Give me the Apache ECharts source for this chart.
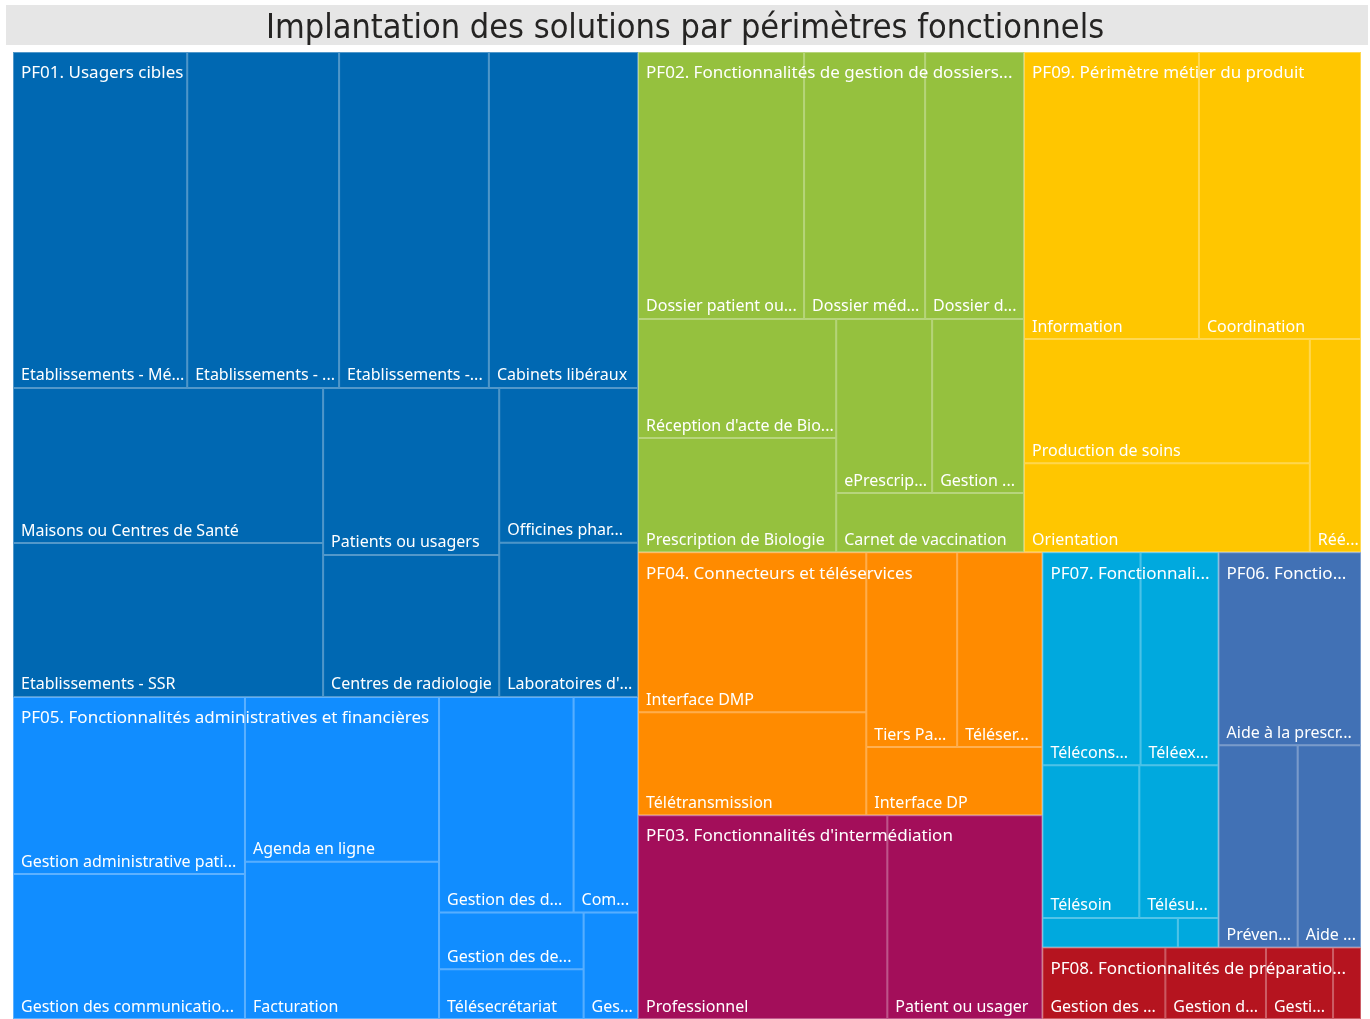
<!DOCTYPE html>
<html>
<head>
<meta charset="utf-8">
<title>Implantation des solutions par périmètres fonctionnels</title>
<script src="https://cdn.jsdelivr.net/npm/echarts@6/dist/echarts.min.js"></script>
<style>
    html, body { margin: 0; padding: 0; background: #fff; }
    #chart { width: 1370px; height: 1019px; }
</style>
</head>
<body>
<div id="chart"></div>
<script>
// périmètres fonctionnels (niveau 1)
var perimetres = [
    'PF01. Usagers cibles',
    'PF05. Fonctionnalités administratives et financières',
    'PF02. Fonctionnalités de gestion de dossiers patients',
    'PF09. Périmètre métier du produit',
    'PF04. Connecteurs et téléservices',
    'PF03. Fonctionnalités d\'intermédiation',
    'PF07. Fonctionnalités de télésanté',
    'PF06. Fonctionnalités d\'aide à la décision',
    'PF08. Fonctionnalités de préparation des doses'
];
var couleurs = ['#0068b2', '#118dff', '#95c13e', '#ffc600', '#ff8b00', '#a30e5a', '#00a9de', '#4171b5', '#b5141f'];

// sous-catégories (niveau 2) et nombre d'implantations
var pf01Noms = ['Etablissements - Médecine, Chirurgie, Obstétrique', 'Etablissements - Psychiatrie', 'Etablissements - Médico-social', 'Cabinets libéraux',
    'Maisons ou Centres de Santé', 'Etablissements - SSR', 'Patients ou usagers', 'Centres de radiologie',
    'Officines pharmaceutiques', 'Laboratoires d\'analyses'];
var pf01Valeurs = [58.5, 51.0, 50.3, 50.1, 48.1, 47.7, 29.4, 25.0, 21.5, 21.4];

var pf05Noms = ['Gestion administrative patients', 'Gestion des communications patients', 'Agenda en ligne', 'Facturation',
    'Gestion des dossiers', 'Comptabilité', 'Gestion des demandes', 'Télésecrétariat', 'Gestion des stocks'];
var pf05Valeurs = [41.1, 33.6, 32.0, 30.5, 29.0, 13.9, 8.2, 7.2, 5.8];

var pf02Noms = ['Dossier patient ou usager informatisé', 'Dossier médical partagé', 'Dossier de soins',
    'Réception d\'acte de Biologie', 'Prescription de Biologie', 'ePrescription', 'Gestion des résultats', 'Carnet de vaccination'];
var pf02Valeurs = [44.3, 32.3, 26.4, 23.6, 22.6, 16.7, 16.0, 11.1];

var pf09Noms = ['Information', 'Coordination', 'Production de soins', 'Orientation', 'Rééducation'];
var pf09Valeurs = [50.2, 46.5, 35.5, 25.4, 10.9];

var pf04Noms = ['Interface DMP', 'Télétransmission', 'Tiers Payant', 'Téléservices', 'Interface DP'];
var pf04Valeurs = [36.5, 23.5, 17.7, 16.6, 12.0];

var pf03Noms = ['Professionnel', 'Patient ou usager'];
var pf03Valeurs = [50.8, 31.6];

var pf07Noms = ['Téléconsultation', 'Téléexpertise', 'Télésoin', 'Télésurveillance', '', ''];
var pf07Valeurs = [20.9, 16.6, 14.8, 12.1, 4.0, 1.2];

var pf06Noms = ['Aide à la prescription', 'Prévention', 'Aide au diagnostic'];
var pf06Valeurs = [27.5, 16.0, 12.8];

var pf08Noms = ['Gestion des commandes', 'Gestion des stocks', 'Gestion de la production', ''];
var pf08Valeurs = [8.8, 7.2, 4.8, 2.0];

var sousNoms = [pf01Noms, pf05Noms, pf02Noms, pf09Noms, pf04Noms, pf03Noms, pf07Noms, pf06Noms, pf08Noms];
var sousValeurs = [pf01Valeurs, pf05Valeurs, pf02Valeurs, pf09Valeurs, pf04Valeurs, pf03Valeurs, pf07Valeurs, pf06Valeurs, pf08Valeurs];

var showTreemap = {
    chart: null,
    police: '"Segoe UI", "Noto Sans", sans-serif',
    // zone commune aux deux séries (pour superposer les libellés)
    zone: { left: 13, top: 52, width: 1348, height: 967 },

    /**
     * arbre complet : périmètre -> sous-catégories
     */
    getArbre: function () {
        return perimetres.map(function (nom, i) {
            return {
                name: nom,
                itemStyle: { color: couleurs[i], borderColor: couleurs[i] },
                children: sousNoms[i].map(function (n, j) {
                    return { name: n, value: sousValeurs[i][j] };
                })
            };
        });
    },
    /**
     * périmètres seuls, même total : sert à poser le libellé en haut à gauche
     */
    getPerimetres: function () {
        return perimetres.map(function (nom, i) {
            var total = sousValeurs[i].reduce(function (a, b) { return a + b; }, 0);
            return {
                name: nom,
                value: total,
                itemStyle: { color: 'transparent', borderColor: 'transparent', borderWidth: 0 }
            };
        });
    },
    getOption: function () {
        var z = this.zone;
        var commun = {
            type: 'treemap',
            left: z.left, top: z.top, width: z.width, height: z.height,
            roam: false,
            nodeClick: false,
            breadcrumb: { show: false },
            animation: false
        };
        var feuilles = Object.assign({}, commun, {
            z: 2,
            itemStyle: { borderWidth: 0, gapWidth: 0 },
            upperLabel: { show: false },
            levels: [
                { itemStyle: { borderWidth: 0, gapWidth: 0 } },
                { itemStyle: { borderWidth: 0, gapWidth: 0 } },
                { itemStyle: { borderWidth: 1, gapWidth: 0, borderColor: 'rgba(255,255,255,0.32)' } }
            ],
            label: {
                show: true,
                position: 'insideBottomLeft',
                color: '#fff',
                fontFamily: this.police,
                fontSize: 16,
                lineHeight: 20,
                padding: [0, 0, 1, 7]
            },
            data: this.getArbre()
        });
        var titres = Object.assign({}, commun, {
            z: 5,
            silent: true,
            itemStyle: { borderWidth: 0, gapWidth: 0, borderColor: 'transparent' },
            levels: [
                { itemStyle: { borderWidth: 0, gapWidth: 0, borderColor: 'transparent' } }
            ],
            label: {
                show: true,
                position: 'insideTopLeft',
                color: '#fff',
                fontFamily: this.police,
                fontSize: 17,
                lineHeight: 23,
                padding: [10, 4, 0, 8]
            },
            data: this.getPerimetres()
        });
        return {
            backgroundColor: '#fff',
            title: {
                text: 'Implantation des solutions par périmètres fonctionnels',
                left: 'center',
                top: 9,
                padding: 0,
                textStyle: {
                    fontFamily: '"DejaVu Sans Condensed", sans-serif',
                    fontWeight: 'normal',
                    fontSize: 34,
                    lineHeight: 40,
                    color: '#252423'
                }
            },
            graphic: [{
                type: 'rect',
                left: 6, top: 5,
                shape: { width: 1362, height: 40 },
                style: { fill: '#e6e6e6' },
                silent: true
            }],
            series: [feuilles, titres]
        };
    },
    init: function (id) {
        this.chart = echarts.init(document.getElementById(id));
        this.chart.setOption(this.getOption());
    }
};

showTreemap.init('chart');
</script>
</body>
</html>
